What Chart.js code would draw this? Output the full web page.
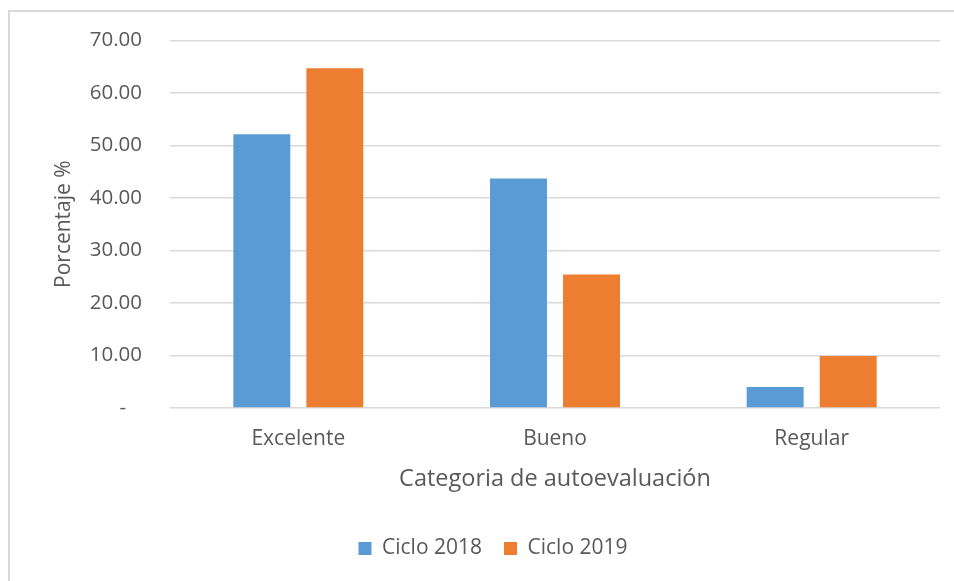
<!DOCTYPE html>
<html>
<head>
<meta charset="utf-8">
<script src="https://cdn.jsdelivr.net/npm/chart.js@4"></script>
<style>
  html, body { margin: 0; padding: 0; background: #ffffff; }
  #wrap { position: relative; width: 954px; height: 581px; overflow: hidden; }
  #frame { position: absolute; left: 8px; top: 10px; right: -5px; bottom: -5px;
           border-left: 2px solid #d9d9d9; border-top: 2px solid #d9d9d9; }
  canvas { position: absolute; left: 0; top: 0; }
</style>
</head>
<body>
<div id="wrap">
  <div id="frame"></div>
  <canvas id="c" width="954" height="581"></canvas>
</div>
<script>
const categories = ["Excelente", "Bueno", "Regular"];
const seriesNames = ["Ciclo 2018", "Ciclo 2019"];
const ciclo2018 = [52.1, 43.7, 4.0];
const ciclo2019 = [64.7, 25.4, 9.9];
const yTicks = [0, 10, 20, 30, 40, 50, 60, 70];
const xTitle = "Categoria de autoevaluación";
const yTitle = "Porcentaje %";

const FONT = "'Open Sans', sans-serif";
const TXT = "#595959";

new Chart(document.getElementById("c"), {
  type: "bar",
  data: {
    labels: categories,
    datasets: [
      { label: seriesNames[0], data: ciclo2018, backgroundColor: "#5b9bd5", borderWidth: 0 },
      { label: seriesNames[1], data: ciclo2019, backgroundColor: "#ed7d31", borderWidth: 0 }
    ]
  },
  options: {
    responsive: false,
    animation: false,
    devicePixelRatio: 1,
    categoryPercentage: 0.569,
    barPercentage: 0.78,
    layout: { padding: { left: 46, right: 14, top: 40, bottom: 12 } },
    plugins: {
      legend: {
        position: "bottom",
        labels: {
          color: TXT,
          font: { family: FONT, size: 21 },
          boxWidth: 13, boxHeight: 13,
          padding: 22
        }
      },
      tooltip: { enabled: false }
    },
    scales: {
      x: {
        afterFit: (s) => { s.height = 108; },
        grid: { display: false, drawTicks: false },
        border: { display: false },
        ticks: { color: TXT, font: { family: FONT, size: 21 }, padding: 18 },
        title: { display: true, text: xTitle, color: TXT,
                 font: { family: FONT, size: 23.5 }, padding: { top: 0, bottom: 23 } }
      },
      y: {
        min: 0, max: 70,
        afterBuildTicks: (s) => { s.ticks = yTicks.map(v => ({ value: v })); },
        afterFit: (s) => { s.width = 124; },
        grid: { color: "#d9d9d9", lineWidth: 1.5, drawTicks: false },
        border: { display: false },
        ticks: {
          color: TXT, font: { family: FONT, size: 20.5 }, padding: 28,
          callback: (v) => v === 0 ? "-   " : Number(v).toFixed(2)
        },
        title: { display: true, text: yTitle, color: TXT,
                 font: { family: FONT, size: 21 }, padding: { top: 5, bottom: 0 } }
      }
    }
  }
});
</script>
</body>
</html>
